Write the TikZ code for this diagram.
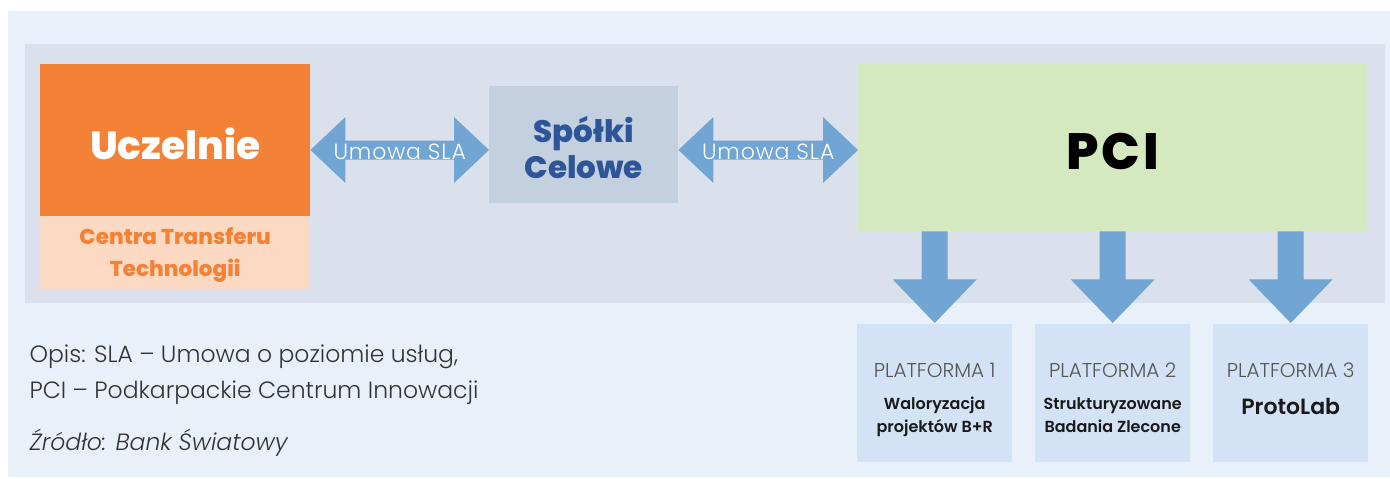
\documentclass[tikz,border=0pt]{standalone}
\usepackage{fontspec}
\setmainfont{Poppins}
\newfontfamily\lightfont{Poppins Light}[ItalicFont={Poppins Light Italic}]
\newfontfamily\heavyfont{Poppins ExtraBold}
\newfontfamily\semifont{Poppins SemiBold}
\usetikzlibrary{calc}

\definecolor{bgouter}{HTML}{E8F0FA}
\definecolor{bginner}{HTML}{DAE1EC}
\definecolor{uczorange}{HTML}{F48236}
\definecolor{uczpeach}{HTML}{FCD9C3}
\definecolor{arrowblue}{HTML}{70A5D4}
\definecolor{spolkibg}{HTML}{C2D0E0}
\definecolor{spolkitext}{HTML}{2E5597}
\definecolor{pcigreen}{HTML}{D4E9C0}
\definecolor{platbg}{HTML}{D3E2F4}
\definecolor{captext}{HTML}{333333}
\definecolor{platgray}{HTML}{555555}

\tikzset{
  box/.style={rectangle, inner sep=0pt, anchor=north west},
  boxtext/.style={anchor=base, align=center, inner sep=0pt},
  slalabel/.style={anchor=base, text=white, font=\lightfont\fontsize{22}{26}\selectfont\addfontfeatures{LetterSpace=4}},
  plattitle/.style={anchor=base, text=platgray, font=\lightfont\fontsize{20}{24}\selectfont},
  plattext/.style={anchor=base, align=center, text=black!90, font=\semifont\fontsize{16}{23}\selectfont},
  caption/.style={anchor=base west, text=captext, font=\lightfont\fontsize{23.5}{28}\selectfont},
}

% horizontal double block arrow between two points
\newcommand\blockdouble[2]{%
  \fill[arrowblue] (#1) -- ++(35,-33) -- ++(0,23.5) -- ($(#2)+(-35,-9.5)$)
    -- ++(0,-23.5) -- (#2) -- ++(-35,33) -- ++(0,-23.5)
    -- ($(#1)+(35,9.5)$) -- ++(0,23.5) -- cycle;}
% downward block arrow from the PCI box to a platform box
\newcommand\blockdown[1]{%
  \fill[arrowblue] ($(#1.north |- pci.south)+(-13,0)$) -- ($(#1.north |- pci.south)+(13,0)$)
    -- ($(#1.north |- pci.south)+(13,48)$) -- ($(#1.north |- pci.south)+(42,48)$)
    -- ($(#1.north)+(0,-1)$)
    -- ($(#1.north |- pci.south)+(-42,48)$) -- ($(#1.north |- pci.south)+(-13,48)$) -- cycle;}

\begin{document}
\begin{tikzpicture}[x=1pt,y=-1pt]
\useasboundingbox (0,0) rectangle (1390,479);
\fill[white] (0,0) rectangle (1390,479);
\fill[bgouter] (8,11) rectangle (1390,477);
\fill[bginner] (25,44) rectangle (1385,303);

% main boxes
\node[box, fill=uczorange, minimum width=270, minimum height=152] (ucz) at (40,64) {};
\node[box, fill=uczpeach, minimum width=270, minimum height=74] (ctt) at (40,216) {};
\node[box, fill=spolkibg, minimum width=189, minimum height=117] (spolki) at (489,86) {};
\node[box, fill=pcigreen, minimum width=509, minimum height=167] (pci) at (858,64) {};

\node[boxtext, text=white, font=\heavyfont\fontsize{39}{42}\selectfont]
  (uczname) at (ucz.north |- 0,159) {Uczelnie};
\node[boxtext, text=uczorange, font=\heavyfont\fontsize{21.5}{32}\selectfont]
  (cttname) at (ctt.north |- 0,276) {Centra Transferu\\Technologii};
\node[boxtext, text=spolkitext, font=\heavyfont\fontsize{31}{36}\selectfont]
  (spolkiname) at (spolki.north |- 0,178) {Spółki\\Celowe};
\node[boxtext, text=black, font=\heavyfont\fontsize{51}{56}\selectfont\addfontfeatures{LetterSpace=6}]
  (pciname) at (pci.north |- 0,169) {PCI};

% platform boxes
\node[box, fill=platbg, minimum width=155, minimum height=138] (p1) at (857,324) {};
\node[box, fill=platbg, minimum width=155, minimum height=138] (p2) at (1035,324) {};
\node[box, fill=platbg, minimum width=155, minimum height=138] (p3) at (1213,324) {};

\node[plattitle] (p1t) at ($(p1.north)+(0,53)$) {PLATFORMA 1};
\node[plattitle] (p2t) at ($(p2.north)+(0,53)$) {PLATFORMA 2};
\node[plattitle] (p3t) at ($(p3.north)+(0,53)$) {PLATFORMA 3};
\node[plattext] (p1x) at ($(p1.north)+(0,108)$) {Waloryzacja\\projektów B+R};
\node[plattext] (p2x) at ($(p2.north)+(0,108)$) {Strukturyzowane\\Badania Zlecone};
\node[plattext, font=\semifont\fontsize{22}{26}\selectfont] (p3x) at ($(p3.north)+(0,90)$) {ProtoLab};

% agreements between the partners
\coordinate (arrowline) at (0,150);
\coordinate (a1l) at (ucz.east |- arrowline);
\coordinate (a1r) at (spolki.west |- arrowline);
\coordinate (a2l) at (spolki.east |- arrowline);
\coordinate (a2r) at (pci.west |- arrowline);
\blockdouble{a1l}{a1r}
\blockdouble{a2l}{a2r}
\node[slalabel] (sla1) at ($(a1l)!0.5!(a1r)+(0,9)$) {Umowa SLA};
\node[slalabel] (sla2) at ($(a2l)!0.5!(a2r)+(0,9)$) {Umowa SLA};

% PCI feeds the three platforms
\blockdown{p1}
\blockdown{p2}
\blockdown{p3}

% legend and source
\node[caption] (opis1) at (26,362) {Opis: SLA – Umowa o poziomie usług,};
\node[caption] (opis2) at (26,398) {PCI – Podkarpackie Centrum Innowacji};
\node[caption] (zrodlo) at (26,450) {\itshape Źródło: Bank Światowy};
\end{tikzpicture}
\end{document}
